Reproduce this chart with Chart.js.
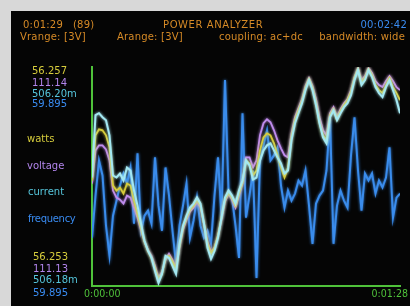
<!DOCTYPE html>
<html>
<head>
<meta charset="utf-8">
<script src="https://cdn.jsdelivr.net/npm/chart.js@4.4.0/dist/chart.umd.min.js"></script>
<style>
    html, body { margin: 0; padding: 0; background: #d8d8d8; }
    #wrap { position: relative; width: 410px; height: 306px; overflow: hidden; }
    #screen { position: absolute; left: 11px; top: 11px; width: 399px; height: 295px; background: #050505; }
    #chart { position: absolute; left: 0; top: 0; }
    .t { position: absolute; font-family: "DejaVu Sans", sans-serif; font-size: 10px; line-height: 12px; white-space: nowrap; }
    .hd { letter-spacing: 0.2px; }
    .cond { font-family: "DejaVu Sans Condensed", "DejaVu Sans", sans-serif; font-stretch: condensed; font-size: 10.5px; }
    .or { color: #d68a26; }
    .bl { color: #3a8cf2; }
    .ye { color: #d6cc3c; }
    .pu { color: #b285ec; }
    .cy { color: #56c6dc; }
    .gr { color: #4fc23a; }
</style>
</head>
<body>
<div id="wrap">
    <div id="screen"></div>
    <canvas id="chart" width="410" height="306"></canvas>

    <div class="t hd or" style="left:23px; top:19px;">0:01:29</div>
    <div class="t hd or" style="left:73px; top:19px;">(89)</div>
    <div class="t hd or" style="left:163px; top:19px; letter-spacing:0.6px;">POWER ANALYZER</div>
    <div class="t hd bl" style="right:3px; top:19px;">00:02:42</div>
    <div class="t hd or" style="left:20px; top:31px;">Vrange: [3V]</div>
    <div class="t hd or" style="left:117px; top:31px;">Arange: [3V]</div>
    <div class="t hd or" style="left:219px; top:31px;">coupling: ac+dc</div>
    <div class="t hd or" style="right:5px; top:31px;">bandwidth: wide</div>

    <div class="t ye" style="left:32px; top:65px;">56.257</div>
    <div class="t pu" style="left:32px; top:77px;">111.14</div>
    <div class="t cy" style="left:32px; top:88px;">506.20m</div>
    <div class="t bl" style="left:32px; top:98px;">59.895</div>

    <div class="t ye" style="left:27px; top:133px;">watts</div>
    <div class="t pu" style="left:27px; top:160px;">voltage</div>
    <div class="t cy" style="left:28px; top:186px;">current</div>
    <div class="t bl" style="left:28px; top:213px; letter-spacing:-0.3px;">frequency</div>

    <div class="t ye" style="left:33px; top:251px;">56.253</div>
    <div class="t pu" style="left:33px; top:263px;">111.13</div>
    <div class="t cy" style="left:33px; top:274px;">506.18m</div>
    <div class="t bl" style="left:33px; top:287px;">59.895</div>

    <div class="t cond gr" style="left:84px; top:287px;">0:00:00</div>
    <div class="t cond gr" style="right:2px; top:287px;">0:01:28</div>
</div>

<script>
// one sample per second, 0:00:00 .. 0:01:28
const seconds = Array.from({ length: 89 }, (_, i) => i);

// traces, 0 = bottom of plot, 218 = top
const current = [108, 170, 172, 168, 165, 150, 110, 108, 112, 105,
    118, 115, 95, 80, 62, 45, 35, 28, 15, 3,
    12, 30, 28, 20, 12, 42, 60, 70, 78, 82,
    88, 82, 62, 38, 27, 35, 48, 68, 88, 95,
    90, 82, 95, 105, 125, 120, 106, 108, 125, 135,
    140, 142, 135, 128, 122, 112, 115, 145, 162, 172,
    182, 195, 205, 195, 180, 162, 148, 142, 168, 175,
    165, 172, 178, 182, 190, 205, 215, 200, 205, 215,
    208, 198, 192, 188, 198, 205, 195, 185, 172];

const watts = [105, 150, 156, 155, 150, 138, 100, 95, 98, 92,
    102, 100, 85, 72, 58, 44, 35, 28, 18, 6,
    12, 28, 30, 24, 16, 40, 58, 68, 76, 80,
    86, 80, 62, 42, 32, 38, 50, 68, 86, 93,
    88, 80, 92, 103, 125, 122, 110, 115, 135, 148,
    152, 150, 142, 130, 118, 108, 118, 148, 165, 175,
    184, 197, 206, 197, 182, 163, 150, 145, 170, 176,
    166, 174, 180, 185, 193, 207, 216, 202, 207, 216,
    210, 200, 195, 192, 200, 207, 198, 192, 185];

const voltage = [102, 135, 140, 140, 136, 125, 95, 88, 86, 82,
    90, 88, 78, 68, 56, 44, 36, 30, 20, 8,
    14, 26, 32, 26, 18, 38, 56, 66, 74, 78,
    84, 78, 62, 44, 34, 38, 50, 66, 84, 92,
    86, 78, 90, 102, 128, 128, 118, 125, 150, 162,
    166, 163, 155, 145, 137, 130, 128, 152, 168, 177,
    186, 199, 207, 199, 186, 168, 155, 150, 172, 178,
    168, 176, 182, 186, 195, 208, 217, 205, 209, 217,
    212, 204, 200, 198, 204, 209, 204, 198, 195];

const frequency = [48, 90, 125, 110, 60, 30, 70, 85, 100, 112,
    102, 118, 62, 132, 55, 70, 75, 62, 128, 80,
    55, 118, 90, 55, 22, 60, 80, 102, 48, 65,
    88, 60, 48, 55, 42, 90, 128, 68, 205, 95,
    88, 60, 28, 172, 68, 90, 115, 8, 125, 140,
    155, 125, 130, 138, 100, 78, 95, 85, 92, 105,
    100, 115, 80, 42, 82, 90, 95, 115, 168, 42,
    80, 95, 85, 78, 130, 168, 115, 75, 112, 105,
    112, 92, 105, 98, 108, 138, 68, 88, 92];

const axisColor = '#4fc23a';

// soft phosphor glow round each trace
const glow = {
    id: 'trace_glow',
    beforeDatasetDraw: (chart, args) => {
        const { ctx } = chart;
        ctx.save();
        ctx.shadowColor = args.meta.dataset.options.borderColor;
        ctx.shadowBlur = 3;
    },
    afterDatasetDraw: (chart) => {
        chart.ctx.restore();
    }
};

function line(label, data, color, width) {
    return {
        label: label,
        data: data,
        borderColor: color,
        borderWidth: width,
        pointRadius: 0,
        tension: 0,
        fill: false
    };
}

function createChart() {
    const ctx = document.getElementById('chart').getContext('2d');

    return new Chart(ctx, {
        type: 'line',
        data: {
            labels: seconds,
            datasets: [
                line('current', current, '#a4e8f2', 2),
                line('watts', watts, '#d6cc3c', 1.8),
                line('voltage', voltage, '#c08cee', 1.8),
                line('frequency', frequency, '#3a8cec', 2)
            ]
        },
        options: {
            responsive: false,
            animation: false,
            events: [],
            layout: { padding: { left: 84, top: 67, right: 10, bottom: 12 } },
            plugins: {
                legend: { display: false },
                tooltip: { enabled: false }
            },
            scales: {
                x: {
                    type: 'linear',
                    min: 0,
                    max: 88,
                    grid: { display: false },
                    ticks: { display: false },
                    border: { display: true, color: axisColor, width: 2 }
                },
                y: {
                    min: 0,
                    max: 218,
                    grid: { display: false },
                    ticks: { display: false },
                    border: { display: true, color: axisColor, width: 2 }
                }
            }
        },
        plugins: [glow]
    });
}

createChart();
</script>
</body>
</html>
